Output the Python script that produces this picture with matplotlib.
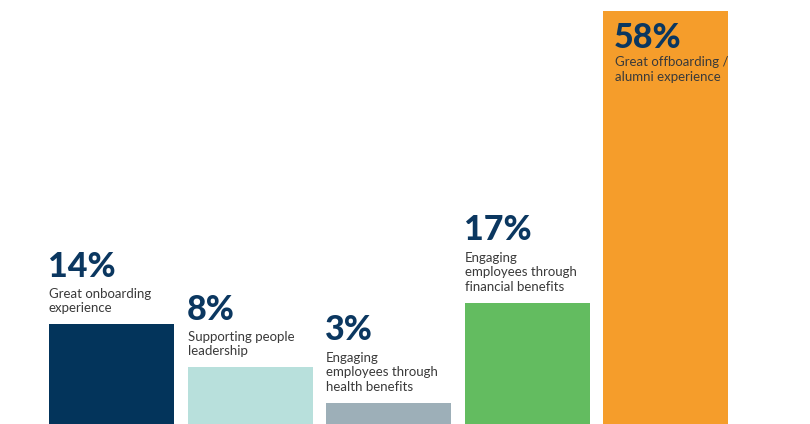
import matplotlib.pyplot as plt

# share of respondents per initiative
labels = [
    "Great onboarding\nexperience",
    "Supporting people\nleadership",
    "Engaging\nemployees through\nhealth benefits",
    "Engaging\nemployees through\nfinancial benefits",
    "Great offboarding /\nalumni experience",
]
values = [14, 8, 3, 17, 58]
colors = ["#03345b", "#b8e0dc", "#9dafb8", "#63bc60", "#f59d2b"]

navy = "#0b3760"
grey = "#3a3a3a"
font = "Lato"

fig = plt.figure(figsize=(8.10, 4.24), dpi=100)
ax = fig.add_axes([0, 0, 1, 1])

width = 0.9025
x = list(range(len(values)))
bars = ax.bar(x, values, width=width, color=colors)

ax.set_xlim(-0.805, 5.043)
ax.set_ylim(0, 59.55)
ax.axis("off")

for i, (b, v, lab) in enumerate(zip(bars, values, labels)):
    left = b.get_x()
    top = b.get_height()
    n = lab.count("\n") + 1
    if i == len(values) - 1:
        # tallest bar: labels sit inside, below the top edge
        ax.annotate(f"{v}%", (left, top), xytext=(11, -37),
                    textcoords="offset pixels", va="baseline", ha="left",
                    fontsize=24.5, fontweight="black", color=navy, family=font)
        ax.annotate(lab, (left, top), xytext=(12, -45),
                    textcoords="offset pixels", va="top", ha="left",
                    fontsize=9.5, color=grey, family=font, linespacing=1.25)
    else:
        ax.annotate(lab, (left, top), xytext=(0, 10),
                    textcoords="offset pixels", va="bottom", ha="left",
                    fontsize=9.5, color=grey, family=font, linespacing=1.25)
        ax.annotate(f"{v}%", (left, top), xytext=(-1, 15 + 16 * n),
                    textcoords="offset pixels", va="baseline", ha="left",
                    fontsize=24.5, fontweight="black", color=navy, family=font)

fig.savefig("out.png", dpi=100, facecolor="white")
